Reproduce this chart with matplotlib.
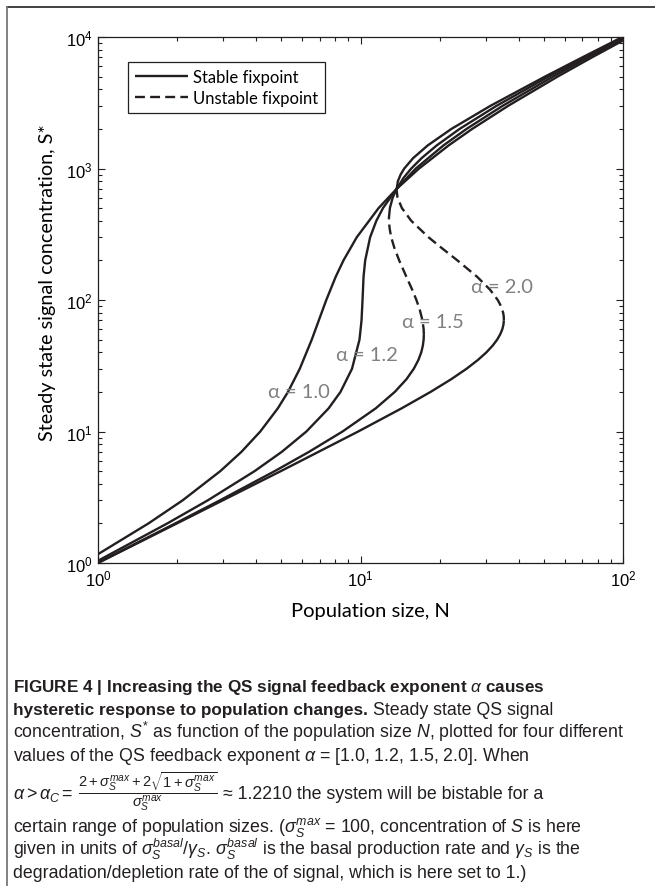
import numpy as np
import matplotlib.pyplot as plt
from matplotlib.lines import Line2D

plt.rcParams['mathtext.fontset'] = 'custom'
plt.rcParams['mathtext.rm'] = 'Liberation Sans'
plt.rcParams['mathtext.it'] = 'Liberation Sans:italic'
plt.rcParams['mathtext.bf'] = 'Liberation Sans:bold'

W, H = 655, 887

# steady state values: (N, S*) per branch
n_a10 = [1.0, 1.557, 2.103, 2.925, 3.518, 4.152, 4.842, 5.294, 5.871, 6.522, 6.937, 7.407,
         8.043, 8.612, 9.677, 11.72, 13.73, 16.72, 21.68, 26.64, 36.55, 56.36, 76.16, 100]
s_a10 = [1.167, 2, 3, 5, 7, 10, 15, 20, 30, 50, 70, 100,
         150, 200, 300, 500, 700, 1000, 1500, 2000, 3000, 5000, 7000, 9400]

n_a12 = [1.0, 1.837, 2.623, 3.952, 5.012, 6.222, 7.561, 8.39, 9.282, 9.913, 10.09, 10.18, 10.27,
         10.42, 10.88, 11.49, 12.18, 13.73, 16.25, 20.72, 25.35, 34.82, 54.13, 73.64, 100]
s_a12 = [1.04, 2, 3, 5, 7, 10, 15, 20, 30, 50, 70, 100, 150,
         200, 300, 400, 500, 700, 1000, 1500, 2000, 3000, 5000, 7000, 9690]

n_a15_low = [1.0, 1.97, 2.918, 4.715, 6.364, 8.544, 11.43, 13.51, 14.97, 15.96, 16.62, 17.04, 17.28, 17.40, 17.43]
s_a15_low = [1.005, 2, 3, 5, 7, 10, 15, 20, 25, 30, 35, 40, 45, 50, 55]
n_a15_uns = [17.43, 17.40, 17.22, 16.80, 16.33, 15.73, 14.96, 14.04, 13.45, 13.09, 12.91, 12.83, 12.83]
s_a15_uns = [55, 60, 70, 85, 100, 120, 150, 200, 250, 300, 350, 400, 420]
n_a15_up = [12.83, 12.94, 13.26, 13.73, 14.60, 15.61, 17.10, 19.53, 23.85, 33.01, 52.07, 71.48, 100]
s_a15_up = [420, 500, 600, 700, 850, 1000, 1200, 1500, 2000, 3000, 5000, 7000, 9915]

n_a20_low = [1.0, 1.998, 4.975, 9.80, 14.34, 18.49, 22.17, 25.35, 28.01, 30.18, 31.88, 33.17, 34.09, 34.70, 35.04, 35.17]
s_a20_low = [1, 2, 5, 10, 15, 20, 25, 30, 35, 40, 45, 50, 55, 60, 65, 70]
n_a20_uns = [35.17, 35.13, 34.95, 34.27, 33.33, 31.13, 27.83, 23.40, 20.31, 18.16, 15.61, 14.38, 13.84, 13.72]
s_a20_uns = [70, 75, 80, 90, 100, 120, 150, 200, 250, 300, 400, 500, 600, 690]
n_a20_up = [13.72, 13.88, 14.22, 14.68, 15.87, 18.05, 22.20, 31.30, 50.46, 69.99, 100]
s_a20_up = [690, 800, 900, 1000, 1200, 1500, 2000, 3000, 5000, 7000, 10050]

alpha_labels = ['α = 1.0', 'α = 1.2', 'α = 1.5', 'α = 2.0']
label_n = [5.85, 10.6, 18.9, 34.6]
label_s = [20.3, 38.2, 69.2, 125.6]

ink = '#231f20'
fig = plt.figure(figsize=(W / 100, H / 100), dpi=100)
ax = fig.add_axes([98 / W, 1 - 564 / H, 525 / W, 526 / H])

solid = dict(color=ink, lw=1.7, solid_capstyle='butt')
dashed = dict(color=ink, lw=1.7, ls=(0, (4.2, 2.2)))
ax.plot(n_a10, s_a10, **solid)
ax.plot(n_a12, s_a12, **solid)
ax.plot(n_a15_low, s_a15_low, **solid)
ax.plot(n_a15_uns, s_a15_uns, **dashed)
ax.plot(n_a15_up, s_a15_up, **solid)
ax.plot(n_a20_low, s_a20_low, **solid)
ax.plot(n_a20_uns, s_a20_uns, **dashed)
ax.plot(n_a20_up, s_a20_up, **solid)

for txt, xn, ys in zip(alpha_labels, label_n, label_s):
    ax.text(xn, ys, txt, color='#808080', fontsize=14.5, family='Lato',
            ha='center', va='center')

ax.set_xscale('log')
ax.set_yscale('log')
ax.set_xlim(1, 100)
ax.set_ylim(1, 1e4)
ax.tick_params(which='both', direction='in', top=True, right=True, color=ink,
               labelsize=12, width=0.8)
ax.tick_params(which='major', length=5, pad=4)
ax.tick_params(which='minor', length=3)
for lab in ax.get_xticklabels() + ax.get_yticklabels():
    lab.set_family('Liberation Sans')
for sp in ax.spines.values():
    sp.set_color(ink)
    sp.set_linewidth(0.9)

ax.set_xlabel('Population size, N', family='Lato', fontsize=14.5, va='center')
ax.xaxis.set_label_coords(0.518, -(612 - 564) / 526)
ax.set_ylabel('Steady state signal concentration, S*', family='Lato', fontsize=14.3, va='center')
ax.yaxis.set_label_coords(-0.097, 0.534)

handles = [Line2D([], [], **solid), Line2D([], [], **dashed)]
leg = ax.legend(handles, ['Stable fixpoint', 'Unstable fixpoint'], loc='upper left',
                bbox_to_anchor=(0.057, 0.952), borderaxespad=0, fancybox=False,
                edgecolor=ink, framealpha=1, handlelength=3.2, handletextpad=0.3,
                labelspacing=0.3, borderpad=0.42, prop={'family': 'Lato', 'size': 12})
leg.get_frame().set_linewidth(0.9)

# frame of the figure panel
fig.add_artist(Line2D([7 / W, 1], [1 - 8 / H, 1 - 8 / H], transform=fig.transFigure,
                      color='#333333', lw=1.3))
fig.add_artist(Line2D([7 / W, 7 / W], [1 - 8 / H, 0], transform=fig.transFigure,
                      color='#777777', lw=1.3))

# caption, placed run by run on each baseline
fs = 12.8
cap = dict(fontsize=fs, family=['Liberation Sans', 'DejaVu Sans'], color=ink, va='baseline')
renderer = fig.canvas.get_renderer()
space = 0.28 * fs * 100 / 72


def put_line(py, parts, x=13):
    for txt, kw in parts:
        opts = dict(cap)
        opts.update(kw)
        t = fig.text(x / W, 1 - py / H, txt, **opts)
        x = t.get_window_extent(renderer).x1 + space


bold = {'fontweight': 'bold', 'fontsize': 12.3}
put_line(692, [(r'FIGURE 4 | Increasing the QS signal feedback exponent $\alpha$ causes', bold)])
put_line(715, [('hysteretic response to population changes.', bold),
               ('Steady state QS signal', {})])
put_line(738, [(r'concentration, $S^{*}$ as function of the population size $N$, plotted for four different', {})])
put_line(761, [(r'values of the QS feedback exponent $\alpha$ = [1.0, 1.2, 1.5, 2.0]. When', {})])
put_line(799, [(r'$\alpha > \alpha_C =$', {}),
               (r'$\dfrac{2+\sigma_S^{max}+2\sqrt{1+\sigma_S^{max}}}{\sigma_S^{max}}$', {'fontsize': 10.5}),
               ('≈ 1.2210 the system will be bistable for a', {})])
put_line(832, [(r'certain range of population sizes. ($\sigma_S^{max}$ = 100, concentration of $S$ is here', {})])
put_line(855, [(r'given in units of $\sigma_S^{basal}/\gamma_S$. $\sigma_S^{basal}$ is the basal production rate and $\gamma_S$ is the', {})])
put_line(878, [('degradation/depletion rate of the of signal, which is here set to 1.)', {})])

fig.savefig('out.png', dpi=100)
